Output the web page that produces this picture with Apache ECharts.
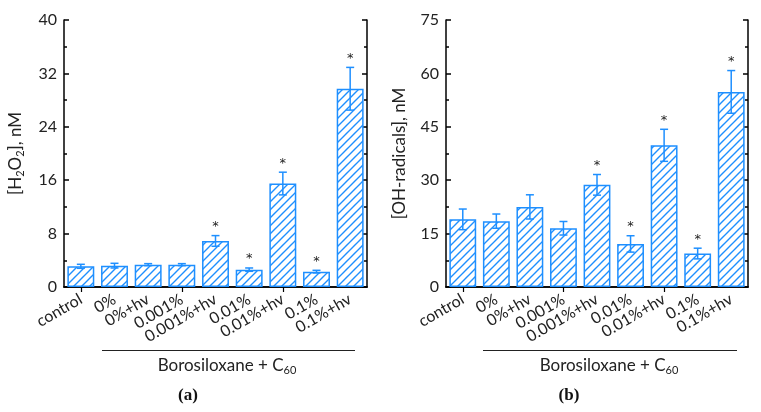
<!DOCTYPE html>
<html>
<head>
<meta charset="utf-8">
<script src="https://cdn.jsdelivr.net/npm/echarts@6/dist/echarts.min.js"></script>
<style>html,body{margin:0;padding:0;background:#fff;}#c{width:761px;height:412px;}</style>
</head>
<body>
<div id="c"></div>
<script>
const categories = ['control','0%','0%+hv','0.001%','0.001%+hv','0.01%','0.01%+hv','0.1%','0.1%+hv'];
const h2o2Values = [3.1, 3.2, 3.35, 3.35, 6.9, 2.6, 15.5, 2.3, 29.7];
const h2o2Errors = [0.3, 0.35, 0.15, 0.15, 0.8, 0.25, 1.7, 0.2, 3.2];
const ohValues = [19.0, 18.5, 22.5, 16.5, 28.7, 12.1, 39.8, 9.4, 54.8];
const ohErrors = [2.9, 2.0, 3.4, 1.9, 2.9, 2.3, 4.5, 1.5, 6.0];
const significant = [0, 0, 0, 0, 1, 1, 1, 1, 1];
const h2o2Ticks = {min: 0, max: 40, interval: 8};
const ohTicks = {min: 0, max: 75, interval: 15};

const BLUE = '#1e8fff';
const FONT = 'Lato, "DejaVu Sans", sans-serif';

function makePattern() {
  const s = 8;
  const c = document.createElement('canvas');
  c.width = s; c.height = s;
  const g = c.getContext('2d');
  g.fillStyle = '#fff'; g.fillRect(0, 0, s, s);
  g.strokeStyle = BLUE; g.lineWidth = 1.4;
  g.beginPath();
  g.moveTo(-1, s + 1); g.lineTo(s + 1, -1);
  g.moveTo(-1, 1); g.lineTo(1, -1);
  g.moveTo(s - 1, s + 1); g.lineTo(s + 1, s - 1);
  g.stroke();
  return c;
}
const pattern = makePattern();

function errData(vals, errs) {
  return vals.map((v, i) => [i, v - errs[i], v + errs[i], significant[i]]);
}

function renderErr(params, api) {
  const x = api.value(0), lo = api.value(1), hi = api.value(2), sig = api.value(3);
  const pHi = api.coord([x, hi]);
  const pLo = api.coord([x, lo]);
  const hw = 4;
  const st = {stroke: BLUE, lineWidth: 1.5};
  const children = [
    {type: 'line', shape: {x1: pHi[0], y1: pHi[1], x2: pLo[0], y2: pLo[1]}, style: st},
    {type: 'line', shape: {x1: pHi[0] - hw, y1: pHi[1], x2: pHi[0] + hw, y2: pHi[1]}, style: st},
    {type: 'line', shape: {x1: pLo[0] - hw, y1: pLo[1], x2: pLo[0] + hw, y2: pLo[1]}, style: st}
  ];
  if (sig) {
    children.push({type: 'text', x: pHi[0], y: pHi[1] - 9,
      style: {text: '*', fontSize: 13, fontFamily: '"DejaVu Sans", sans-serif', fill: '#222', align: 'center', verticalAlign: 'middle'}});
  }
  return {type: 'group', children: children};
}

const axisLine = {show: true, lineStyle: {color: '#000', width: 1.5}};

function xAxes(gi) {
  return [
    {type: 'category', gridIndex: gi, data: categories, position: 'bottom',
     axisLine: axisLine,
     axisTick: {show: true, inside: true, alignWithLabel: true, length: 5, lineStyle: {color: '#000', width: 1.2}},
     axisLabel: {rotate: 30, margin: 11, fontSize: 16, color: '#222', fontFamily: FONT, interval: 0}},
    {type: 'category', gridIndex: gi, data: categories, position: 'top',
     axisLine: axisLine,
     axisTick: {show: true, inside: true, alignWithLabel: true, length: 5, lineStyle: {color: '#000', width: 1.2}},
     axisLabel: {show: false}}
  ];
}

function yAxes(gi, t, name) {
  const tick = {show: true, inside: true, length: 5, lineStyle: {color: '#000', width: 1.5}};
  const minor = {show: true, splitNumber: 2, length: 3, lineStyle: {color: '#000', width: 1.5}};
  return [
    {type: 'value', gridIndex: gi, min: t.min, max: t.max, interval: t.interval, position: 'left',
     axisLine: axisLine, axisTick: tick, minorTick: minor, splitLine: {show: false},
     axisLabel: {fontSize: 16, color: '#222', fontFamily: FONT, margin: 7},
     name: name, nameLocation: 'middle', nameGap: 38,
     nameTextStyle: {fontSize: 17, color: '#222', fontFamily: FONT,
       rich: {s: {fontSize: 11, color: '#222', fontFamily: FONT, padding: [9, 0, 0, 0]}}}},
    {type: 'value', gridIndex: gi, min: t.min, max: t.max, interval: t.interval, position: 'right',
     axisLine: axisLine, axisTick: tick, minorTick: minor, splitLine: {show: false},
     axisLabel: {show: false}}
  ];
}

function barSeries(xi, yi, vals) {
  return {type: 'bar', xAxisIndex: xi, yAxisIndex: yi, data: vals, barWidth: '80%',
    itemStyle: {color: {image: pattern, repeat: 'repeat'}, borderColor: BLUE, borderWidth: 1.5},
    z: 2, silent: true};
}
function errSeries(xi, yi, vals, errs) {
  return {type: 'custom', xAxisIndex: xi, yAxisIndex: yi, data: errData(vals, errs),
    renderItem: renderErr, z: 3, silent: true};
}

const subText = (x, y) => ({type: 'text', x: x, y: y,
  style: {text: 'Borosiloxane + C{s|60}', fontSize: 17, fontFamily: FONT, fill: '#222',
    align: 'center', verticalAlign: 'middle',
    rich: {s: {fontSize: 11, fontFamily: FONT, fill: '#222', padding: [9, 0, 0, 0]}}}});
const panelText = (x, y, t) => ({type: 'text', x: x, y: y,
  style: {text: t, fontSize: 17, fontWeight: 'bold', fontFamily: '"Liberation Serif", "DejaVu Serif", serif',
    fill: '#111', align: 'center', verticalAlign: 'middle'}});

const chart = echarts.init(document.getElementById('c'), null, {renderer: 'canvas'});
chart.setOption({
  animation: false,
  backgroundColor: '#fff',
  grid: [
    {left: 64, top: 20, width: 303, height: 267},
    {left: 446, top: 20, width: 302, height: 267}
  ],
  xAxis: xAxes(0).concat(xAxes(1)),
  yAxis: yAxes(0, h2o2Ticks, '[H{s|2}O{s|2}], nM').concat(yAxes(1, ohTicks, '[OH-radicals], nM')),
  series: [
    barSeries(0, 0, h2o2Values), errSeries(0, 0, h2o2Values, h2o2Errors),
    barSeries(2, 2, ohValues), errSeries(2, 2, ohValues, ohErrors)
  ],
  graphic: [
    {type: 'line', shape: {x1: 102, y1: 350.5, x2: 355, y2: 350.5}, style: {stroke: '#222', lineWidth: 1.2}},
    {type: 'line', shape: {x1: 483, y1: 350.5, x2: 737, y2: 350.5}, style: {stroke: '#222', lineWidth: 1.2}},
    subText(227, 366), subText(609, 366),
    panelText(188, 396, '(a)'), panelText(569, 396, '(b)')
  ]
});
</script>
</body>
</html>
